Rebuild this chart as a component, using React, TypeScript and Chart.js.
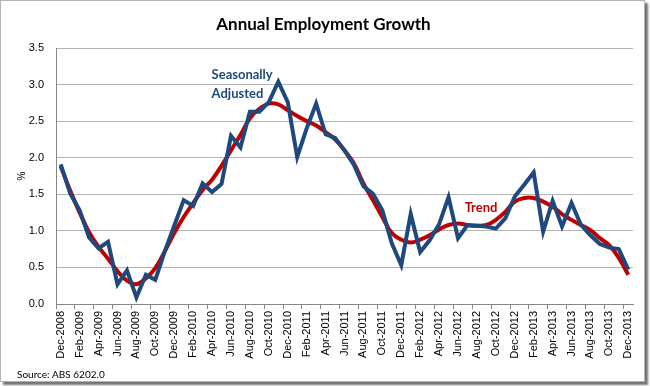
import React, { useEffect, useRef } from 'react';
import { Chart, registerables } from 'chart.js';

Chart.register(...registerables);

const months = [
  'Dec-2008', 'Jan-2009', 'Feb-2009', 'Mar-2009', 'Apr-2009', 'May-2009', 'Jun-2009', 'Jul-2009', 'Aug-2009', 'Sep-2009', 'Oct-2009', 'Nov-2009',
  'Dec-2009', 'Jan-2010', 'Feb-2010', 'Mar-2010', 'Apr-2010', 'May-2010', 'Jun-2010', 'Jul-2010', 'Aug-2010', 'Sep-2010', 'Oct-2010', 'Nov-2010',
  'Dec-2010', 'Jan-2011', 'Feb-2011', 'Mar-2011', 'Apr-2011', 'May-2011', 'Jun-2011', 'Jul-2011', 'Aug-2011', 'Sep-2011', 'Oct-2011', 'Nov-2011',
  'Dec-2011', 'Jan-2012', 'Feb-2012', 'Mar-2012', 'Apr-2012', 'May-2012', 'Jun-2012', 'Jul-2012', 'Aug-2012', 'Sep-2012', 'Oct-2012', 'Nov-2012',
  'Dec-2012', 'Jan-2013', 'Feb-2013', 'Mar-2013', 'Apr-2013', 'May-2013', 'Jun-2013', 'Jul-2013', 'Aug-2013', 'Sep-2013', 'Oct-2013', 'Nov-2013',
  'Dec-2013',
];

const seasonallyAdjusted = [
  1.91, 1.51, 1.28, 0.91, 0.76, 0.85, 0.27, 0.46, 0.09, 0.40, 0.33, 0.72,
  1.07, 1.42, 1.34, 1.65, 1.53, 1.64, 2.30, 2.14, 2.63, 2.63, 2.76, 3.04,
  2.76, 2.01, 2.40, 2.74, 2.32, 2.27, 2.10, 1.90, 1.61, 1.51, 1.28, 0.83,
  0.53, 1.23, 0.71, 0.87, 1.09, 1.46, 0.90, 1.08, 1.07, 1.06, 1.03, 1.17,
  1.47, 1.63, 1.80, 0.99, 1.41, 1.06, 1.38, 1.08, 0.94, 0.82, 0.77, 0.75,
  0.47,
];

const trend = [
  1.88, 1.55, 1.25, 0.98, 0.78, 0.62, 0.45, 0.32, 0.27, 0.35, 0.49, 0.72,
  0.97, 1.19, 1.38, 1.56, 1.70, 1.89, 2.10, 2.31, 2.54, 2.67, 2.74, 2.73,
  2.65, 2.57, 2.50, 2.44, 2.35, 2.25, 2.10, 1.92, 1.65, 1.42, 1.19, 0.97,
  0.88, 0.84, 0.88, 0.94, 1.02, 1.08, 1.10, 1.08, 1.07, 1.08, 1.15, 1.26,
  1.40, 1.45, 1.45, 1.40, 1.33, 1.23, 1.15, 1.08, 1.01, 0.90, 0.80, 0.63,
  0.40,
];

const yMin = 0;
const yMax = 3.5;
const yStep = 0.5;

const BLUE = '#1F497D';
const RED = '#C00000';

const textPlugin = {
  id: 'extraTexts',
  afterDatasetsDraw(chart: any) {
    const { ctx, scales } = chart;
    const x = scales.x;
    const y = scales.y;
    ctx.save();
    ctx.textAlign = 'left';
    ctx.textBaseline = 'alphabetic';
    ctx.font = 'bold 13px Lato';
    ctx.fillStyle = BLUE;
    ctx.fillText('Seasonally', x.getPixelForValue(15.95), y.getPixelForValue(3.07));
    ctx.fillText('Adjusted', x.getPixelForValue(15.95), y.getPixelForValue(2.82));
    ctx.fillStyle = RED;
    ctx.fillText('Trend', x.getPixelForValue(42.7), y.getPixelForValue(1.26));
    ctx.restore();
  },
  afterDraw(chart: any) {
    const { ctx } = chart;
    ctx.save();
    ctx.textAlign = 'left';
    ctx.textBaseline = 'alphabetic';
    ctx.font = '10px Lato';
    ctx.fillStyle = '#000';
    ctx.fillText('Source: ABS 6202.0', 17, 378);
    ctx.restore();
  },
};

export default function App() {
  const ref = useRef<HTMLCanvasElement | null>(null);

  useEffect(() => {
    if (!ref.current) return;
    const chart = new Chart(ref.current, {
      type: 'line',
      data: {
        labels: months,
        datasets: [
          {
            label: 'Seasonally Adjusted',
            data: seasonallyAdjusted,
            borderColor: BLUE,
            borderWidth: 4,
            pointRadius: 0,
            tension: 0,
            fill: false,
          },
          {
            label: 'Trend',
            data: trend,
            borderColor: RED,
            borderWidth: 4,
            pointRadius: 0,
            tension: 0.4,
            fill: false,
          },
        ],
      },
      options: {
        responsive: false,
        animation: false,
        layout: { padding: { left: 14, right: 17, top: 0, bottom: 12 } },
        plugins: {
          legend: { display: false },
          tooltip: { enabled: false },
          title: {
            display: true,
            text: 'Annual Employment Growth',
            color: '#000',
            font: { family: 'Lato', size: 17, weight: 'bold' },
            padding: { top: 14, bottom: 13.6 },
          },
        },
        scales: {
          x: {
            type: 'category',
            offset: true,
            grid: {
              display: true,
              drawOnChartArea: false,
              drawTicks: true,
              tickLength: 5,
              offset: true,
              color: (ctx: any) => (ctx.index % 2 === 0 ? '#868686' : 'rgba(0,0,0,0)'),
            },
            border: { display: true, color: '#868686', width: 1 },
            ticks: {
              autoSkip: false,
              maxRotation: 90,
              minRotation: 90,
              padding: 2,
              color: '#000',
              font: { family: 'Liberation Sans', size: 11 },
              callback: (_v: any, i: number) => (i % 2 === 0 ? months[i] : ''),
            },
            afterFit: (scale: any) => {
              scale.height = 70;
            },
          },
          y: {
            min: yMin,
            max: yMax,
            grid: { color: '#b3b3b3', drawTicks: false, lineWidth: 1 },
            border: { display: true, color: '#868686', width: 1 },
            ticks: {
              stepSize: yStep,
              padding: 12,
              color: '#000',
              font: { family: 'Liberation Sans', size: 11 },
              callback: (v: any) => Number(v).toFixed(1),
            },
            title: {
              display: true,
              text: '%',
              color: '#000',
              font: { family: 'Liberation Sans', size: 10 },
              padding: 2,
            },
            afterFit: (scale: any) => {
              scale.width = 42;
            },
          },
        },
      },
      plugins: [textPlugin],
    });
    return () => chart.destroy();
  }, []);

  return (
    <div style={{ position: 'absolute', left: 0, top: 0, width: 650, height: 386 }}>
      <div
        style={{
          position: 'absolute',
          left: 0,
          top: 0,
          width: 643,
          height: 380,
          border: '1px solid #b4b4b4',
          boxShadow: '3px 3px 2px rgba(0,0,0,0.55)',
          background: '#fff',
        }}
      />
      <canvas
        ref={ref}
        width={650}
        height={386}
        style={{ position: 'absolute', left: 0, top: 0, width: 650, height: 386 }}
      />
    </div>
  );
}
